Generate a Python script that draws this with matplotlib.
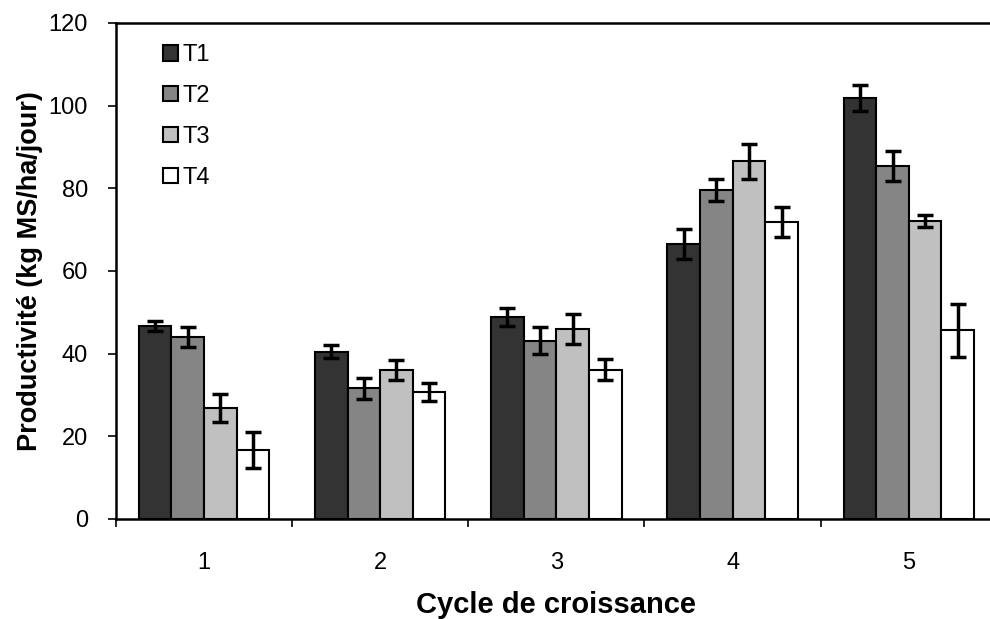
import numpy as np
import matplotlib.pyplot as plt

plt.rcParams['font.family'] = ['Liberation Sans', 'DejaVu Sans']

# Productivity per growth cycle for each treatment (mean and standard error)
cycles = ['1', '2', '3', '4', '5']
treatments = ['T1', 'T2', 'T3', 'T4']
t1 = [46.7, 40.5, 48.8, 66.5, 101.8]
t2 = [44.0, 31.6, 43.1, 79.6, 85.3]
t3 = [26.8, 36.0, 45.9, 86.5, 72.1]
t4 = [16.7, 30.7, 36.1, 71.8, 45.7]
t1_err = [1.3, 1.6, 2.2, 3.7, 3.2]
t2_err = [2.4, 2.5, 3.3, 2.7, 3.6]
t3_err = [3.4, 2.5, 3.6, 4.3, 1.5]
t4_err = [4.4, 2.2, 2.6, 3.7, 6.4]

values = [t1, t2, t3, t4]
errors = [t1_err, t2_err, t3_err, t4_err]
colors = ['#333333', '#858585', '#c0c0c0', '#ffffff']

fig = plt.figure(figsize=(9.9, 6.19), dpi=100)
ax = fig.add_axes([0.117, 0.1616, 0.89, 0.8014])

x = np.arange(1, len(cycles) + 1)
width = 0.185
for i, (vals, errs, col, name) in enumerate(zip(values, errors, colors, treatments)):
    pos = x + (i - 1.5) * width
    ax.bar(pos, vals, width, color=col, edgecolor='black', linewidth=1.5, label=name, zorder=2)
    ax.errorbar(pos, vals, yerr=errs, fmt='none', ecolor='black', elinewidth=2.5,
                capsize=5.5, capthick=2.5, zorder=3)

ax.set_xlim(0.5, 5.5)
ax.set_ylim(0, 120)
ax.set_yticks(range(0, 121, 20))
ax.set_xticks(x)
ax.set_xticklabels(cycles)
ax.set_xticks(np.arange(0.5, 5.6, 1), minor=True)
ax.tick_params(axis='x', which='major', length=0, pad=24, labelsize=17)
ax.tick_params(axis='x', which='minor', length=6, width=1.2, direction='out')
ax.tick_params(axis='y', length=6, width=1.2, labelsize=17, pad=14)

for side in ['left', 'bottom', 'top']:
    ax.spines[side].set_linewidth(1.8)
ax.spines['right'].set_visible(False)

ax.set_ylabel('Productivité (kg MS/ha/jour)', fontsize=19.5, fontweight='bold', labelpad=4)
ax.set_xlabel('Cycle de croissance', fontsize=21, fontweight='bold', labelpad=12)

ax.legend(loc='upper left', bbox_to_anchor=(0.032, 0.995), frameon=False, fontsize=17,
          handlelength=0.62, handleheight=0.62, handletextpad=0.2, labelspacing=0.8,
          borderpad=0.3)

fig.savefig('out.png', dpi=100)
